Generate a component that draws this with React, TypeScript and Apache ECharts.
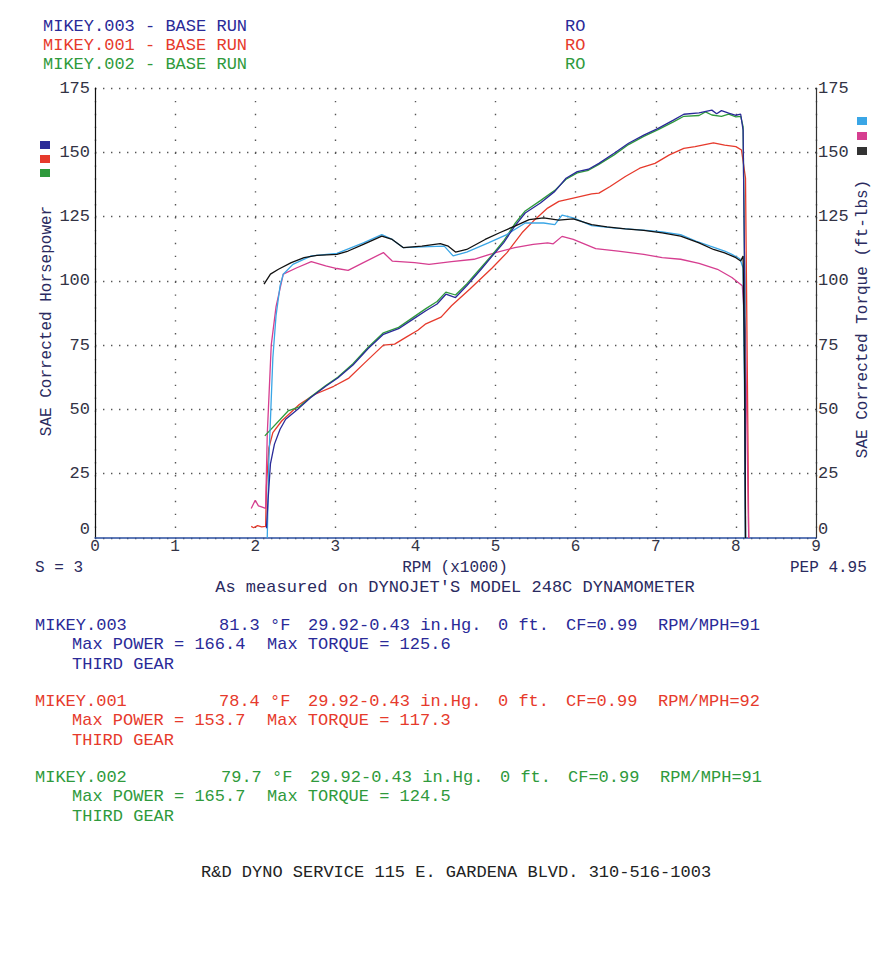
import React, { useEffect, useRef } from "react";
import * as echarts from "echarts";

// ---------- DATA ----------
const xTicks = [0, 1, 2, 3, 4, 5, 6, 7, 8, 9];
const yTicks = [0, 25, 50, 75, 100, 125, 150, 175];

const hp003: [number, number][] = [
  [2.14, 3.8], [2.16, 14.7], [2.19, 28.8], [2.24, 36.5], [2.31, 42.3], [2.38, 46.2], [2.55, 50.6],
  [2.69, 54.5], [2.88, 59.0], [3.03, 62.2], [3.22, 67.3], [3.41, 73.7], [3.6, 79.2], [3.79, 81.4],
  [3.98, 85.3], [4.13, 88.4], [4.27, 91], [4.38, 94.8], [4.5, 93.5], [4.64, 98.1], [4.82, 104.5],
  [4.96, 109.7], [5.1, 114.8], [5.24, 121.3], [5.37, 126.4], [5.56, 130.3], [5.74, 134.8],
  [5.88, 139.9], [6.02, 142.5], [6.16, 143.4], [6.29, 145.7], [6.48, 149.6], [6.66, 153.5],
  [6.85, 156.7], [7.03, 159.3], [7.22, 162.5], [7.35, 164.8], [7.54, 165.3], [7.7, 166.4],
  [7.76, 165.0], [7.82, 166.2], [7.91, 165.2], [8.0, 164.4], [8.06, 164.8], [8.09, 158.6],
  [8.11, 100], [8.12, 0],
];
const hp001: [number, number][] = [
  [1.95, 4.5], [1.98, 4.0], [2.03, 4.8], [2.08, 4.3], [2.13, 4.5], [2.14, 20], [2.17, 35],
  [2.22, 41], [2.33, 45.5], [2.55, 51.9], [2.74, 55.8], [2.98, 59], [3.17, 62.2], [3.36, 67.9],
  [3.6, 75], [3.74, 75.4], [3.89, 78.2], [4.03, 80.8], [4.13, 83.3], [4.32, 85.9], [4.45, 90.3],
  [4.68, 96.8], [4.96, 105.1], [5.14, 110.9], [5.33, 118.7], [5.49, 123.8], [5.65, 128.3],
  [5.79, 130.9], [5.97, 132.2], [6.2, 133.8], [6.29, 134.1], [6.43, 136.7], [6.62, 140.6],
  [6.8, 143.8], [6.99, 145.7], [7.17, 149], [7.35, 151.5], [7.49, 152.2], [7.72, 153.7],
  [7.86, 152.8], [8.0, 152.2], [8.07, 150.9], [8.12, 140], [8.15, 40], [8.16, 0],
];
const hp002: [number, number][] = [
  [2.12, 39.7], [2.41, 49.4], [2.55, 51], [2.69, 54.8], [2.88, 59.3], [3.03, 62.5], [3.22, 67.8],
  [3.41, 74.2], [3.6, 79.8], [3.79, 81.9], [3.98, 86.0], [4.13, 89.2], [4.27, 92], [4.38, 95.6],
  [4.5, 94.5], [4.64, 98.8], [4.82, 105.2], [4.96, 110.2], [5.1, 115.5], [5.24, 122.2],
  [5.37, 127.2], [5.56, 131.2], [5.74, 135.2], [5.88, 139.5], [6.02, 142.0], [6.16, 143.0],
  [6.29, 145.3], [6.48, 149.0], [6.66, 153.0], [6.85, 156.2], [7.03, 158.8], [7.22, 161.8],
  [7.35, 164.0], [7.54, 164.3], [7.62, 165.7], [7.7, 164.5], [7.82, 164.0], [7.91, 164.8],
  [8.0, 163.8], [8.06, 164.0], [8.09, 160], [8.11, 100], [8.12, 0],
];
const tq003: [number, number][] = [
  [2.15, 0], [2.17, 30], [2.22, 70], [2.26, 86.5], [2.31, 98], [2.35, 102.6], [2.47, 106.4],
  [2.7, 109.7], [3.02, 110.7], [3.35, 114.8], [3.58, 118.0], [3.71, 116.1], [3.85, 112.9],
  [4.17, 113.3], [4.36, 113.5], [4.47, 109.7], [4.64, 111.2], [4.91, 114.8], [5.14, 118.0],
  [5.37, 122.5], [5.6, 122.5], [5.74, 121.9], [5.83, 125.6], [5.97, 124.5], [6.2, 121.5],
  [6.5, 120.5], [6.85, 119.7], [7.08, 119.0], [7.31, 118], [7.5, 115.5], [7.68, 113.5],
  [7.86, 111.6], [7.95, 110.3], [8.05, 108.6], [8.09, 105], [8.11, 50], [8.12, 0],
];
const tq001: [number, number][] = [
  [1.95, 11.5], [2.0, 14.7], [2.04, 12.5], [2.07, 12.2], [2.13, 11.5], [2.15, 40], [2.2, 75],
  [2.26, 90], [2.35, 102.6], [2.52, 105.1], [2.7, 107.5], [2.88, 105.8], [3.02, 104.8],
  [3.16, 104.1], [3.35, 107.1], [3.6, 111.0], [3.71, 107.7], [3.99, 107.1], [4.17, 106.4],
  [4.45, 107.5], [4.73, 108.4], [5.0, 111.0], [5.24, 112.9], [5.47, 114.2], [5.65, 114.8],
  [5.72, 114.4], [5.83, 117.3], [5.97, 116.1], [6.25, 112.5], [6.53, 111.6], [6.85, 110.3],
  [7.08, 109.0], [7.31, 108.4], [7.54, 106.8], [7.77, 104.5], [7.95, 101.3], [8.08, 98.1],
  [8.12, 80], [8.15, 20], [8.16, 0],
];
const tq002: [number, number][] = [
  [2.11, 98.7], [2.19, 102.6], [2.29, 104.5], [2.45, 107.1], [2.61, 109.0], [2.77, 109.9],
  [3.02, 110.3], [3.16, 111.6], [3.35, 114.2], [3.58, 117.4], [3.71, 116.1], [3.85, 112.9],
  [4.08, 113.5], [4.31, 114.5], [4.41, 113.5], [4.5, 111.2], [4.64, 112.2], [4.87, 116.1],
  [5.05, 118.7], [5.24, 121.3], [5.42, 123.8], [5.6, 124.5], [5.79, 123.6], [5.97, 124.1],
  [6.2, 121.9], [6.39, 121.0], [6.62, 120.2], [6.85, 119.6], [7.08, 118.7], [7.31, 117.4],
  [7.54, 114.8], [7.72, 112.2], [7.86, 110.9], [8.0, 109.0], [8.06, 107.7], [8.09, 109.7],
  [8.11, 60], [8.12, 0],
];

const runNames = ["MIKEY.003", "MIKEY.001", "MIKEY.002"];
const runTemps = ["81.3 °F", "78.4 °F", "79.7 °F"];
const runPressure = "29.92-0.43 in.Hg.";
const runAlt = "0 ft.";
const runCF = "CF=0.99";
const runRpmMph = ["RPM/MPH=91", "RPM/MPH=92", "RPM/MPH=91"];
const runMaxPower = ["Max POWER = 166.4", "Max POWER = 153.7", "Max POWER = 165.7"];
const runMaxTorque = ["Max TORQUE = 125.6", "Max TORQUE = 117.3", "Max TORQUE = 124.5"];
const runGear = "THIRD GEAR";
const headerSuffix = " - BASE RUN";
const headerRO = "RO";

// ---------- STYLE ----------
const C_NAVY = "#2a2a98";
const C_RED = "#e63a2c";
const C_GREEN = "#2f9a3c";
const C_CYAN = "#3aa6e6";
const C_PINK = "#d63e90";
const C_BLACK = "#111111";
const runColors = [C_NAVY, C_RED, C_GREEN];
const FONT = '"Liberation Mono", "DejaVu Sans Mono", monospace';

const txt = (x: number, y: number, text: string, fill: string, size = 17, align = "left", rotation = 0) => ({
  type: "text",
  x,
  y,
  rotation,
  style: {
    text,
    fill,
    font: `${size}px ${FONT}`,
    textAlign: align,
    textVerticalAlign: "middle",
  },
  silent: true,
});

export default function App() {
  const ref = useRef<HTMLDivElement>(null);
  useEffect(() => {
    if (!ref.current) return;
    const chart = echarts.init(ref.current, null, { renderer: "svg" });

    const graphics: any[] = [];
    // top header
    const headerY = [26, 45, 64];
    runNames.forEach((n, i) => {
      graphics.push(txt(43, headerY[i], n + headerSuffix, runColors[i]));
      graphics.push(txt(565, headerY[i], headerRO, runColors[i]));
    });
    // legend squares
    const leftSq = [C_NAVY, C_RED, C_GREEN];
    const rightSq = [C_CYAN, C_PINK, "#333333"];
    [145, 159, 173].forEach((y, i) => {
      graphics.push({ type: "rect", shape: { x: 40, y: y - 4, width: 10, height: 8 }, style: { fill: leftSq[i] }, silent: true });
    });
    [121, 136, 151].forEach((y, i) => {
      graphics.push({ type: "rect", shape: { x: 857, y: y - 4, width: 10, height: 8 }, style: { fill: rightSq[i] }, silent: true });
    });
    // axis titles
    graphics.push(txt(47, 321, "SAE Corrected Horsepower", "#2a2a60", 16, "center", Math.PI / 2));
    graphics.push(txt(863, 319, "SAE Corrected Torque (ft-lbs)", "#2a2a60", 16, "center", Math.PI / 2));
    // under-axis texts
    graphics.push(txt(35, 568, "S = 3", "#2a2a60", 16));
    graphics.push(txt(455, 568, "RPM (x1000)", "#2a2a60", 16, "center"));
    graphics.push(txt(790, 568, "PEP 4.95", "#2a2a60", 16));
    graphics.push(txt(455, 587, "As measured on DYNOJET'S MODEL 248C DYNAMOMETER", "#2a2a60", 17, "center"));
    // run blocks
    const blockY = [625, 701, 777];
    runNames.forEach((n, i) => {
      const y = blockY[i];
      const c = runColors[i];
      const dx = i === 2 ? 2 : 0;
      graphics.push(txt(35, y, n, c));
      graphics.push(txt(219 + dx, y, runTemps[i], c));
      graphics.push(txt(308 + dx, y, runPressure, c));
      graphics.push(txt(498 + dx, y, runAlt, c));
      graphics.push(txt(566 + dx, y, runCF, c));
      graphics.push(txt(658 + dx, y, runRpmMph[i], c));
      graphics.push(txt(72, y + 19, runMaxPower[i], c));
      graphics.push(txt(267, y + 19, runMaxTorque[i], c));
      graphics.push(txt(72, y + 39, runGear, c));
    });
    graphics.push(txt(201, 872, "R&D DYNO SERVICE 115 E. GARDENA BLVD. 310-516-1003", "#222222"));

    const line = (name: string, data: [number, number][], color: string, yAxisIndex: number, z: number) => ({
      name,
      type: "line",
      data,
      yAxisIndex,
      showSymbol: false,
      symbol: "none",
      smooth: false,
      z,
      lineStyle: { color, width: 1.3 },
      silent: true,
    });

    const yAxisBase = {
      type: "value",
      min: 0,
      max: 175,
      interval: 25,
      axisTick: { show: false },
    };
    const yLabel = {
      fontFamily: FONT,
      fontSize: 17,
      color: "#333344",
      verticalAlignMinLabel: "bottom",
      formatter: (v: number) => (yTicks.includes(v) ? String(v) : ""),
    };

    chart.setOption({
      animation: false,
      backgroundColor: "#ffffff",
      grid: { left: 95, right: 71, top: 88, bottom: 429, containLabel: false },
      xAxis: {
        type: "value",
        min: 0,
        max: 9,
        interval: 1,
        axisLine: { show: true, lineStyle: { color: "#2b4fa0", width: 1.5 } },
        axisTick: { show: false },
        axisLabel: {
          fontFamily: FONT,
          fontSize: 16,
          color: "#333344",
          margin: 1,
          formatter: (v: number) => (xTicks.includes(v) ? String(v) : ""),
        },
        splitLine: { show: true, lineStyle: { color: "#555555", width: 1.4, type: [1.4, 11.5] } },
      },
      yAxis: [
        {
          ...yAxisBase,
          position: "left",
          axisLine: { show: true, lineStyle: { color: "#111111", width: 1.2 } },
          axisLabel: { ...yLabel, margin: 5 },
          splitLine: { show: true, lineStyle: { color: "#555555", width: 1.4, type: [1.4, 6.6] } },
        },
        {
          ...yAxisBase,
          position: "right",
          axisLine: { show: true, lineStyle: { color: "#333333", width: 1.2 } },
          axisLabel: { ...yLabel, margin: 2 },
          splitLine: { show: false },
        },
      ],
      series: [
        line("HP MIKEY.001", hp001, C_RED, 0, 2),
        line("TQ MIKEY.001", tq001, C_PINK, 1, 3),
        line("HP MIKEY.002", hp002, C_GREEN, 0, 4),
        line("TQ MIKEY.003", tq003, C_CYAN, 1, 5),
        line("HP MIKEY.003", hp003, C_NAVY, 0, 6),
        line("TQ MIKEY.002", tq002, C_BLACK, 1, 7),
      ],
      graphic: graphics,
    });
    return () => chart.dispose();
  }, []);

  return (
    <div
      ref={ref}
      style={{ position: "absolute", left: 0, top: 0, width: 887, height: 967, background: "#fff" }}
    />
  );
}
